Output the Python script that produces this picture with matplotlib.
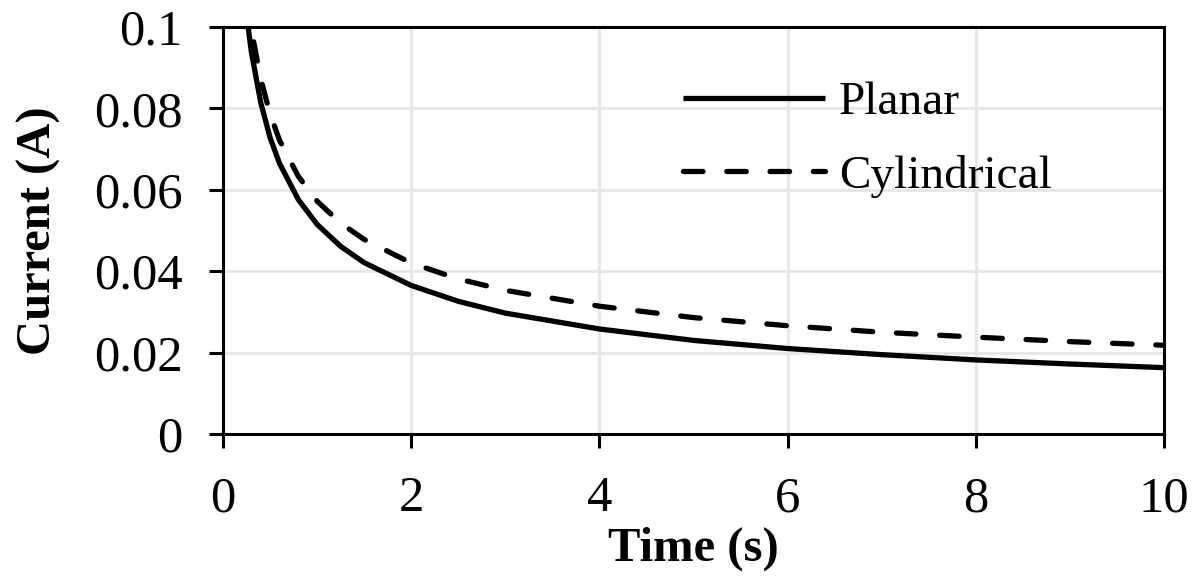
import matplotlib
matplotlib.use("Agg")
import matplotlib.pyplot as plt

time_s = [0.25, 0.3, 0.4, 0.5, 0.6, 0.8, 1.0, 1.25, 1.5, 2.0, 2.5, 3.0,
          4.0, 5.0, 6.0, 7.0, 8.0, 9.0, 10.0]
planar = [0.103, 0.094, 0.0815, 0.0728, 0.0665, 0.0576, 0.0515, 0.0461,
          0.0421, 0.0365, 0.0326, 0.0297, 0.0258, 0.0230, 0.0210, 0.0195,
          0.0182, 0.0172, 0.0163]
cylindrical = [0.109, 0.0995, 0.0873, 0.0786, 0.0722, 0.0633, 0.0572, 0.0518,
               0.0478, 0.0420, 0.0381, 0.0353, 0.0314, 0.0286, 0.0266, 0.0250,
               0.0238, 0.0227, 0.0218]
x_ticks = [0, 2, 4, 6, 8, 10]
y_ticks = [0, 0.02, 0.04, 0.06, 0.08, 0.1]
y_tick_labels = ["0", "0.02", "0.04", "0.06", "0.08", "0.1"]

plt.rcParams['font.family'] = ['Liberation Serif', 'DejaVu Serif']

fig = plt.figure(figsize=(11.94, 5.81), dpi=100)
ax = fig.add_axes([0.1868, 0.253, 0.7882, 0.7005])

lw = 3.8
ax.plot(time_s, planar, color='black', lw=lw, solid_capstyle='butt', label='Planar')
ax.plot(time_s, cylindrical, color='black', lw=lw, dashes=(3.7, 4.5),
        dash_capstyle='round', label='Cylindrical')

ax.set_xlim(0, 10)
ax.set_ylim(0, 0.1)
ax.set_xticks(x_ticks)
ax.set_xticklabels([str(v) for v in x_ticks])
ax.set_yticks(y_ticks)
ax.set_yticklabels(y_tick_labels)

ax.grid(True, color='#e6e6e6', lw=2)
ax.set_axisbelow(True)
for s in ax.spines.values():
    s.set_linewidth(2.2)
    s.set_color('black')
ax.tick_params(direction='out', length=10, width=2.2, labelsize=36.5)
ax.tick_params(axis='x', pad=20)
ax.tick_params(axis='y', pad=19)

ax.set_xlabel('Time (s)', fontsize=35, fontweight='bold', labelpad=3)
ax.set_ylabel('Current (A)', fontsize=35, fontweight='bold', labelpad=24)

ax.legend(loc='center left', bbox_to_anchor=(0.489, 0.724), frameon=False,
          fontsize=34, handlelength=3.0, handletextpad=0.3, labelspacing=0.64,
          borderpad=0, borderaxespad=0)

fig.savefig('out.png', dpi=100)
